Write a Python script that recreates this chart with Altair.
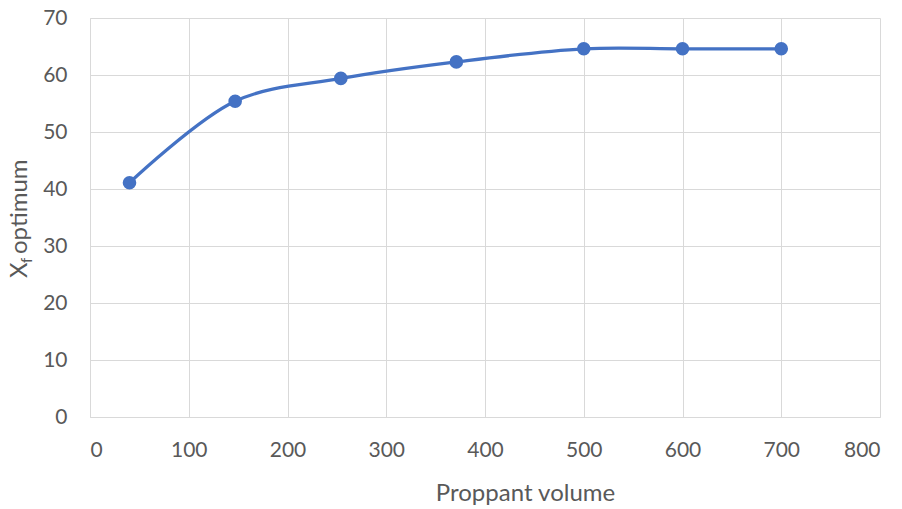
import altair as alt
import pandas as pd

volume = [40, 147, 254, 371, 500, 600, 700]
xf_opt = [41.1, 55.4, 59.4, 62.3, 64.6, 64.6, 64.6]

df = pd.DataFrame({"volume": volume, "xf": xf_opt})

FONT = "Lato"
TXT = "#595959"
BLUE = "#4472C4"
GRID = "#d9d9d9"

x = alt.X("volume:Q", scale=alt.Scale(domain=[0, 800], nice=False),
          axis=alt.Axis(values=list(range(0, 801, 100)), title="Proppant volume",
                        titleX=435, titleY=83, titleBaseline="alphabetic", titleAlign="center",
                        titleFont=FONT, titleFontSize=24, titleFontWeight="normal", titleColor=TXT,
                        labelFont=FONT, labelFontSize=21, labelColor=TXT, labelPadding=22,
                        ticks=False, tickSize=0, domainColor=GRID, gridColor=GRID))
y = alt.Y("xf:Q", scale=alt.Scale(domain=[0, 70], nice=False),
          axis=alt.Axis(values=list(range(0, 71, 10)), title=None,
                        labelFont=FONT, labelFontSize=21, labelColor=TXT, labelPadding=23,
                        ticks=False, tickSize=0, domainColor=GRID, gridColor=GRID))

line = alt.Chart(df).mark_line(color=BLUE, strokeWidth=3.3, interpolate="catmull-rom").encode(x=x, y=y)
pts = alt.Chart(df).mark_point(color=BLUE, filled=True, opacity=1, size=185, shape="circle").encode(x=x, y=y)

ann = pd.DataFrame({"a": [0]})
tX = alt.Chart(ann).mark_text(text="X", angle=270, align="left", baseline="alphabetic",
                              font=FONT, fontSize=24, color=TXT).encode(
    x=alt.value(-63), y=alt.value(260))
tf = alt.Chart(ann).mark_text(text="f", angle=270, align="left", baseline="alphabetic",
                              font=FONT, fontSize=15, color=TXT).encode(
    x=alt.value(-58), y=alt.value(245))
tOpt = alt.Chart(ann).mark_text(text="optimum", angle=270, align="left", baseline="alphabetic",
                                font=FONT, fontSize=24, color=TXT).encode(
    x=alt.value(-63), y=alt.value(236))

chart = alt.layer(line, pts, tX, tf, tOpt).properties(
    width=790, height=399, autosize="none",
    padding={"left": 90, "top": 18, "right": 22, "bottom": 92},
    background="white",
).configure_view(stroke=None)

chart.save("out.html", embed_options={"renderer": "svg", "actions": False})
